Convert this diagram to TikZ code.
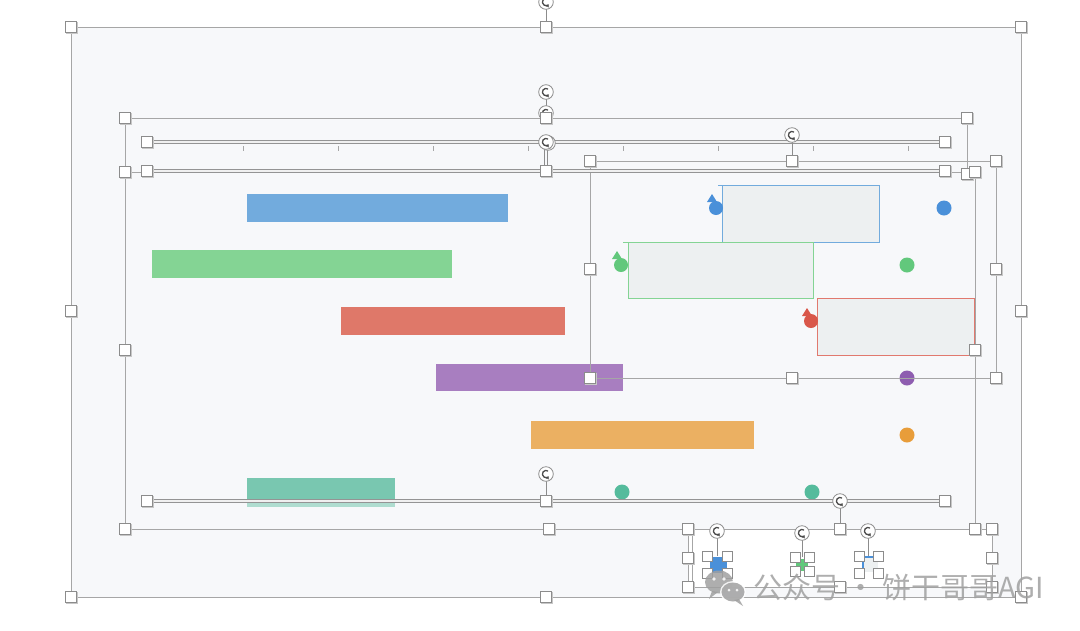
\documentclass[tikz,border=0pt]{standalone}
\usepackage{fontspec}
\newfontfamily\cjk{Noto Sans CJK SC}
\usetikzlibrary{arrows.meta}
\definecolor{slidebg}{HTML}{F7F8FA}
\definecolor{selgray}{HTML}{A6A6A6}
\definecolor{hgray}{HTML}{8C8C8C}
\definecolor{barblue}{HTML}{72ABDD}
\definecolor{bargreen}{HTML}{84D494}
\definecolor{barred}{HTML}{DF7869}
\definecolor{barpurple}{HTML}{A87EC0}
\definecolor{barorange}{HTML}{EBB062}
\definecolor{barteal}{HTML}{79C7B0}
\definecolor{dotblue}{HTML}{4A90D9}
\definecolor{dotgreen}{HTML}{62C87C}
\definecolor{dotred}{HTML}{D9574A}
\definecolor{dotpurple}{HTML}{8E5DB0}
\definecolor{dotorange}{HTML}{E89D3A}
\definecolor{dotteal}{HTML}{55BB9C}
\definecolor{boxfill}{HTML}{EDF0F1}
\definecolor{wmgray}{HTML}{A0A0A0}
\tikzset{
  sel/.style={draw=selgray, line width=0.9pt},
  axisedge/.style={draw=black!42, line width=1pt},
  hnd/.pic={\fill[black!22] (-5,-5) rectangle (7,7);
            \draw[fill=white,draw=hgray,line width=0.7pt] (-5.5,-5.5) rectangle (5.5,5.5);},
  shnd/.pic={\fill[black!22] (-4,-4) rectangle (5.5,5.5);
            \draw[fill=white,draw=hgray,line width=0.6pt] (-4.8,-4.8) rectangle (4.8,4.8);},
  roth/.pic={\draw[fill=white,draw=hgray,line width=0.8pt] (0,0) circle (7.3);
             \draw[black!70, line width=1.3pt, -{Triangle[length=2.6pt,width=3.8pt]}] (-55:3.6) arc (-55:-320:3.6);},
  stem/.style={draw=hgray, line width=0.8pt},
}
\newcommand\axisbar[3]{%
  \fill[black!6] (#1,#3-1.5) rectangle (#2,#3+1.5);
  \draw[axisedge] (#1,#3-1.8) -- (#2,#3-1.8);
  \draw[axisedge] (#1,#3+1.8) -- (#2,#3+1.8);}
\begin{document}
\begin{tikzpicture}[x=1pt,y=-1pt]
\useasboundingbox (0,0) rectangle (1080,630);
\fill[white] (0,0) rectangle (1080,630);
% slide
\draw[sel, fill=slidebg] (71,27) rectangle (1021,597);
% bottom-right selection box interior
\fill[white] (688,529) rectangle (992,587);
% bars
\fill[barblue]   (247,194) rectangle (508,222);
\fill[bargreen]  (152,250) rectangle (452,278);
\fill[barred]    (341,307) rectangle (565,335);
\fill[barpurple] (436,364) rectangle (623,391);
\fill[barorange] (531,421) rectangle (754,449);
\fill[barteal]   (247,478) rectangle (395,506);
\fill[barteal!60] (247,503) rectangle (395,507);
% right boxes
\draw[draw=barblue, fill=boxfill, line width=0.9pt] (722,185) rectangle (879,242);
\draw[draw=barblue, line width=0.9pt] (718,185) -- (722,185);
\draw[draw=bargreen, fill=boxfill, line width=0.9pt] (628,242) rectangle (813,298);
\draw[draw=bargreen, line width=0.9pt] (623,242) -- (628,242);
\draw[draw=dotred!80, fill=boxfill, line width=0.9pt] (817,298) rectangle (974,355);
% markers
\fill[dotblue] (716,208) circle (7);
\fill[dotblue] (712,194) -- (707,202) -- (717,202) -- cycle;
\fill[dotgreen] (621,265) circle (7);
\fill[dotgreen] (617,251) -- (612,259) -- (622,259) -- cycle;
\fill[dotred] (811,321) circle (7);
\fill[dotred] (807,308) -- (802,316) -- (812,316) -- cycle;
% dots
\fill[dotblue] (944,208) circle (7.5);
\fill[dotgreen] (907,265) circle (7.5);
\fill[dotpurple] (907,378) circle (7.5);
\fill[dotorange] (907,435) circle (7.5);
\fill[dotteal] (622,492) circle (7.5);
\fill[dotteal] (812,492) circle (7.5);
% selection outlines
\draw[sel] (125,118) rectangle (967,172);
\draw[sel] (125,172) rectangle (975,529);
\draw[sel] (590,161) rectangle (996,378);
\draw[sel] (688,529) rectangle (992,587);
\draw[sel] (692,529) -- (692,587);
% axis lines
\axisbar{147}{945}{142}
\foreach \x in {243,338,433,528,623,718,813,908} \draw[black!35, line width=0.8pt] (\x,146) -- (\x,151);
\axisbar{147}{945}{171}
\axisbar{147}{945}{501}
% stems
\draw[stem] (546,2) -- (546,27);
\draw[stem] (546,92) -- (546,118);
\draw[stem] (544.5,142) -- (544.5,171);
\draw[stem] (547.5,142) -- (547.5,171);
\draw[stem] (792,135) -- (792,161);
\draw[stem] (546,474) -- (546,501);
\draw[stem] (840,501) -- (840,529);
\draw[stem] (717,531) -- (717,556);
\draw[stem] (802,533) -- (802,557);
\draw[stem] (868,531) -- (868,556);
% rotation handles
\foreach \p in {(546,2),(546,92),(546,113),(792,135),(546,474)} \pic at \p {roth};
% handles
\foreach \p in {(71,27),(546,27),(1021,27),(71,311),(1021,311),(71,597),(546,597),(1021,597),
  (125,118),(546,118),(967,118),(967,174),
  (125,172),(125,350),(125,529),(549,529),(975,529),(975,350),(975,172),
  (147,142),(945,142),(147,171),(546,171),(945,171),
  (590,161),(792,161),(996,161),(590,269),(996,269),(590,378),(792,378),(996,378),
  (147,501),(546,501),(945,501),
  (688,529),(840,529),(992,529),(688,558),(992,558),(688,587),(840,587),(992,587)}
  \pic at \p {hnd};
\pic at (548,143) {roth};
\pic at (546,142) {roth};
\pic at (840,501) {roth};
% icons in bottom box
\fill[dotblue] (710,557) rectangle (727,573);
\fill[dotgreen] (796,563) rectangle (808,567);
\fill[dotgreen] (800,559) rectangle (804,571);
\fill[boxfill] (863,557) rectangle (878,572);
\draw[dotblue, line width=1.2pt] (863,572) -- (863,557) -- (878,557);
\foreach \p in {(707,556),(727,556),(707,573),(727,573),
  (795,557),(809,557),(795,571),(809,571),
  (859,556),(878,556),(859,573),(878,573)} \pic at \p {shnd};
\foreach \p in {(717,531),(802,533),(868,531)} \pic at \p {roth};
% watermark
\begin{scope}[opacity=0.85]
\fill[wmgray] (719,582) ellipse (14 and 11.5);
\fill[wmgray] (712,591) -- (709,599) -- (718,592) -- cycle;
\fill[white] (733,592) ellipse (13 and 11);
\fill[wmgray] (733,592) ellipse (11.5 and 9.5);
\fill[wmgray] (739,599) -- (743,606) -- (734,600) -- cycle;
\fill[white] (714,579) circle (1.8);
\fill[white] (724,579) circle (1.8);
\fill[white] (729,590) circle (1.5);
\fill[white] (737,590) circle (1.5);
\node[anchor=west, inner sep=0pt, text=wmgray, font=\cjk\fontsize{29}{29}\selectfont] (wm) at (753,587) {公众号 · 饼干哥哥AGI};
\end{scope}
\end{tikzpicture}
\end{document}
